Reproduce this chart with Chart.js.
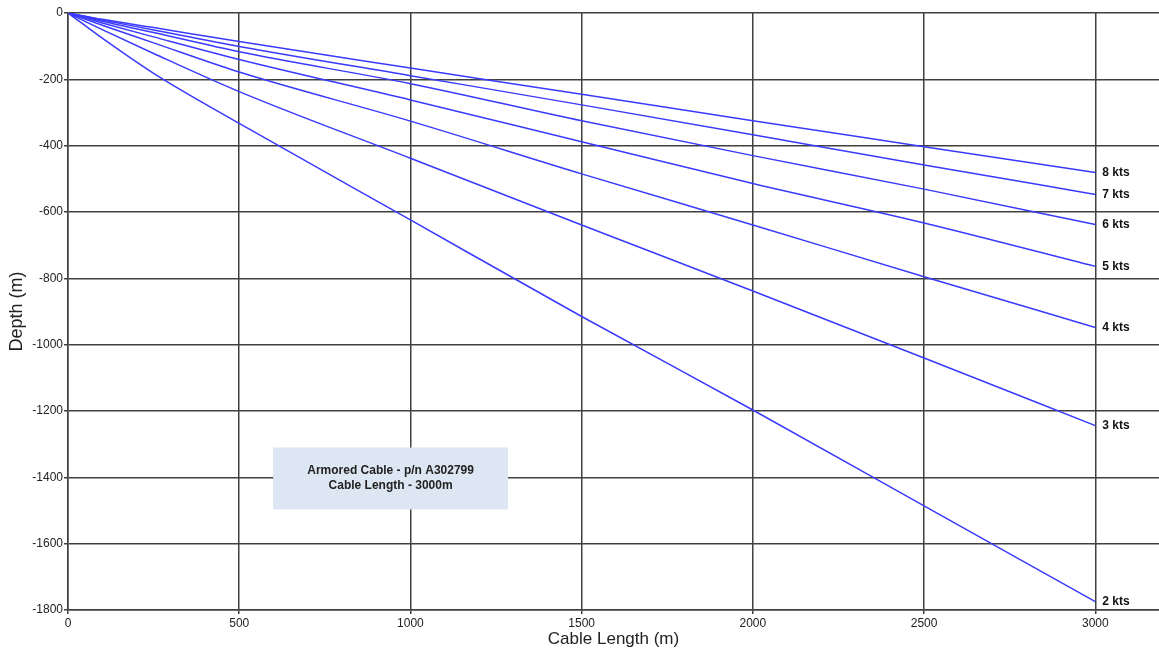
<!DOCTYPE html>
<html>
<head>
<meta charset="utf-8">
<script src="https://cdn.jsdelivr.net/npm/chart.js@4"></script>
<style>
  html, body { margin: 0; padding: 0; background: #ffffff; }
  #wrap { width: 1159px; height: 655px; position: relative; }
</style>
</head>
<body>
<div id="wrap"><canvas id="c" width="1159" height="655"></canvas></div>
<script>
// ---- data ----
const cableLength = [0, 100, 250, 500, 1000, 1500, 2000, 2500, 3000];
const speedLabels = ['8 kts', '7 kts', '6 kts', '5 kts', '4 kts', '3 kts', '2 kts'];
const depth8kts = [0, -19, -44, -86, -166, -245, -325, -403, -481];
const depth7kts = [0, -21, -51, -101, -189, -277, -367, -458, -547];
const depth6kts = [0, -25, -59, -117, -213, -325, -430, -531, -638];
const depth5kts = [0, -30, -72, -140, -262, -388, -514, -633, -764];
const depth4kts = [0, -37, -90, -178, -326, -485, -639, -795, -948];
const depth3kts = [0, -50, -122, -237, -438, -639, -838, -1040, -1244];
const depth2kts = [0, -76, -182, -333, -624, -915, -1197, -1486, -1775];
const xTicks = [0, 500, 1000, 1500, 2000, 2500, 3000];
const yTicks = [0, -200, -400, -600, -800, -1000, -1200, -1400, -1600, -1800];
const noteLines = ['Armored Cable - p/n A302799', 'Cable Length - 3000m'];

const allDepths = [depth8kts, depth7kts, depth6kts, depth5kts, depth4kts, depth3kts, depth2kts];

const FONT = '"Liberation Sans", Arial, sans-serif';
const LINE_COLOR = '#3a3aff';
const GRID_COLOR = '#404040';

const datasets = allDepths.map((arr, i) => ({
  label: speedLabels[i],
  data: cableLength.map((x, j) => ({ x: x, y: arr[j] })),
  borderColor: LINE_COLOR,
  borderWidth: 1.5,
  pointRadius: 0,
  fill: false,
  cubicInterpolationMode: 'monotone'
}));

// end-of-line labels
const endLabels = {
  id: 'endLabels',
  afterDatasetsDraw(chart) {
    const ctx = chart.ctx;
    ctx.save();
    ctx.font = 'bold 12px ' + FONT;
    ctx.fillStyle = '#111';
    ctx.textAlign = 'left';
    ctx.textBaseline = 'middle';
    chart.data.datasets.forEach((ds) => {
      const last = ds.data[ds.data.length - 1];
      const px = chart.scales.x.getPixelForValue(last.x);
      const py = chart.scales.y.getPixelForValue(last.y);
      ctx.fillText(ds.label, px + 7, py);
    });
    ctx.restore();
  }
};

// note box
const noteBox = {
  id: 'noteBox',
  beforeDatasetsDraw(chart) {
    const xs = chart.scales.x, ys = chart.scales.y;
    const x0 = xs.getPixelForValue(599), x1 = xs.getPixelForValue(1285);
    const y0 = ys.getPixelForValue(-1310), y1 = ys.getPixelForValue(-1497);
    const ctx = chart.ctx;
    ctx.save();
    ctx.fillStyle = '#dde6f3';
    ctx.fillRect(x0, y0, x1 - x0, y1 - y0);
    ctx.font = 'bold 12px ' + FONT;
    ctx.fillStyle = '#222';
    ctx.textAlign = 'center';
    ctx.textBaseline = 'middle';
    const cx = (x0 + x1) / 2, cy = (y0 + y1) / 2;
    ctx.fillText(noteLines[0], cx, cy - 7.5);
    ctx.fillText(noteLines[1], cx, cy + 7.5);
    ctx.restore();
  }
};

new Chart(document.getElementById('c'), {
  type: 'line',
  data: { datasets: datasets },
  options: {
    responsive: false,
    animation: false,
    layout: { padding: { top: 13, right: 0, left: 0, bottom: 0 } },
    plugins: { legend: { display: false }, tooltip: { enabled: false } },
    scales: {
      x: {
        type: 'linear',
        min: 0,
        max: 3186,
        afterBuildTicks(scale) { scale.ticks = xTicks.map(v => ({ value: v })); },
        afterFit(scale) { scale.height = 45; },
        grid: { color: GRID_COLOR, lineWidth: 1.5, tickLength: 4, drawTicks: true },
        border: { color: GRID_COLOR, width: 1.5 },
        ticks: { color: '#222', font: { family: FONT, size: 12 }, padding: 2, maxRotation: 0, autoSkip: false, callback: v => String(v) },
        title: { display: true, text: 'Cable Length (m)', color: '#222', font: { family: FONT, size: 17 }, padding: { top: 0, bottom: 5 } }
      },
      y: {
        type: 'linear',
        min: -1800,
        max: 0,
        afterBuildTicks(scale) { scale.ticks = yTicks.map(v => ({ value: v })); },
        afterFit(scale) { scale.width = 68; },
        grid: { color: GRID_COLOR, lineWidth: 1.5, tickLength: 4, drawTicks: true },
        border: { color: GRID_COLOR, width: 1.5 },
        ticks: { color: '#222', font: { family: FONT, size: 12 }, padding: 1, autoSkip: false, callback: v => String(v) },
        title: { display: true, text: 'Depth (m)', color: '#222', font: { family: FONT, size: 18 }, padding: { top: 6, bottom: 0 } }
      }
    }
  },
  plugins: [noteBox, endLabels]
});
</script>
</body>
</html>
